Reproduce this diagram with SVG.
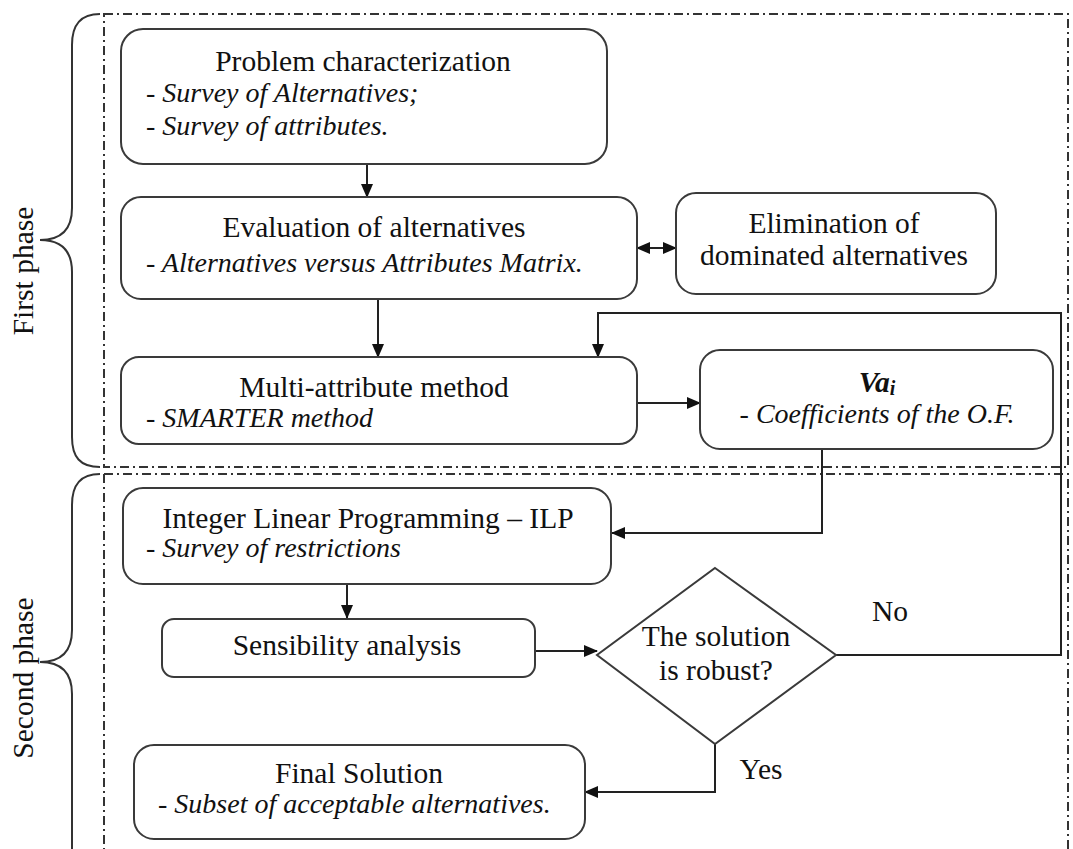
<svg xmlns="http://www.w3.org/2000/svg" width="1073" height="849" viewBox="0 0 1073 849">
<style>
.bg{fill:#fff}
.box{fill:#fff;stroke:#3a3a3a;stroke-width:2}
.phase{fill:none;stroke:#333;stroke-width:2;stroke-dasharray:9 4 2 4}
.brace{fill:none;stroke:#333;stroke-width:2}
.con{fill:none;stroke:#222;stroke-width:2}
text{font-family:'Liberation Serif','DejaVu Serif',serif;fill:#111}
.t{font-size:29.5px}
.i{font-size:28px;font-style:italic}
.m{text-anchor:middle}
</style>
<defs>
<marker id="ah" markerUnits="userSpaceOnUse" markerWidth="14" markerHeight="12" refX="13" refY="6" orient="auto-start-reverse">
<path d="M0,0 L14,6 L0,12 Z" fill="#111"/>
</marker>
</defs>
<rect class="bg" x="0" y="0" width="1073" height="849"/>
<g id="phases">
<path class="phase" d="M104,14 H1068 V467 H104 Z"/>
<path class="phase" d="M104,474 H1068 V849 M104,474 V849"/>
<path class="brace" d="M100,14 C80,14 72,25 72,45 L72,208 C72,230 60,240 40,240 C60,240 72,250 72,272 L72,437 C72,457 80,467 100,467"/>
<path class="brace" d="M100,474 C80,474 72,485 72,505 L72,630 C72,652 60,662 40,662 C60,662 72,672 72,694 L72,849"/>
<text class="t m" transform="translate(33,271) rotate(-90)">First phase</text>
<text class="t m" transform="translate(33,678) rotate(-90)">Second phase</text>
</g>
<g id="connectors">
<line class="con" x1="367" y1="164" x2="367" y2="197" marker-end="url(#ah)"/>
<line class="con" x1="637" y1="248" x2="676" y2="248" marker-start="url(#ah)" marker-end="url(#ah)"/>
<line class="con" x1="378" y1="299" x2="378" y2="357" marker-end="url(#ah)"/>
<line class="con" x1="637" y1="403" x2="700" y2="403" marker-end="url(#ah)"/>
<polyline class="con" points="836,655 1061,655 1061,313 598,313 598,357" marker-end="url(#ah)"/>
<polyline class="con" points="822,449 822,533 612,533" marker-end="url(#ah)"/>
<line class="con" x1="347" y1="584" x2="347" y2="618" marker-end="url(#ah)"/>
<line class="con" x1="535" y1="651" x2="597" y2="651" marker-end="url(#ah)"/>
<polyline class="con" points="715,744 715,792 585,792" marker-end="url(#ah)"/>
<text class="t m" x="890" y="621">No</text>
<text class="t m" x="761" y="779">Yes</text>
</g>
<g id="problem">
<rect class="box" x="121" y="29" width="486" height="135" rx="22"/>
<text class="t m" x="363" y="71">Problem characterization</text>
<text class="i" x="146" y="102">- Survey of Alternatives;</text>
<text class="i" x="146" y="135">- Survey of attributes.</text>
</g>
<g id="evaluation">
<rect class="box" x="121" y="197" width="516" height="102" rx="20"/>
<text class="t m" x="374" y="237">Evaluation of alternatives</text>
<text class="i" x="146" y="272">- Alternatives versus Attributes Matrix.</text>
</g>
<g id="elimination">
<rect class="box" x="676" y="193" width="320" height="101" rx="20"/>
<text class="t m" x="834" y="233">Elimination of</text>
<text class="t m" x="834" y="265">dominated alternatives</text>
</g>
<g id="multiattribute">
<rect class="box" x="121" y="357" width="516" height="87" rx="18"/>
<text class="t m" x="374" y="397">Multi-attribute method</text>
<text class="i" x="146" y="427">- SMARTER method</text>
</g>
<g id="vai">
<rect class="box" x="700" y="350" width="353" height="99" rx="20"/>
<text class="t m" x="877" y="392" font-weight="bold" font-style="italic">Va<tspan font-size="20" dy="3">i</tspan></text>
<text class="i m" x="877" y="423">- Coefficients of the O.F.</text>
</g>
<g id="ilp">
<rect class="box" x="123" y="488" width="488" height="96" rx="20"/>
<text class="t m" x="368" y="528">Integer Linear Programming – ILP</text>
<text class="i" x="146" y="557">- Survey of restrictions</text>
</g>
<g id="sensibility">
<rect class="box" x="162" y="619" width="373" height="58" rx="12"/>
<text class="t m" x="347" y="655">Sensibility analysis</text>
</g>
<g id="decision">
<polygon class="box" points="715,568 836,655 715,744 597,655"/>
<text class="t m" x="716" y="646">The solution</text>
<text class="t m" x="716" y="680">is robust?</text>
</g>
<g id="final">
<rect class="box" x="134" y="745" width="451" height="94" rx="20"/>
<text class="t m" x="359" y="783">Final Solution</text>
<text class="i" x="158" y="813">- Subset of acceptable alternatives.</text>
</g>
</svg>
